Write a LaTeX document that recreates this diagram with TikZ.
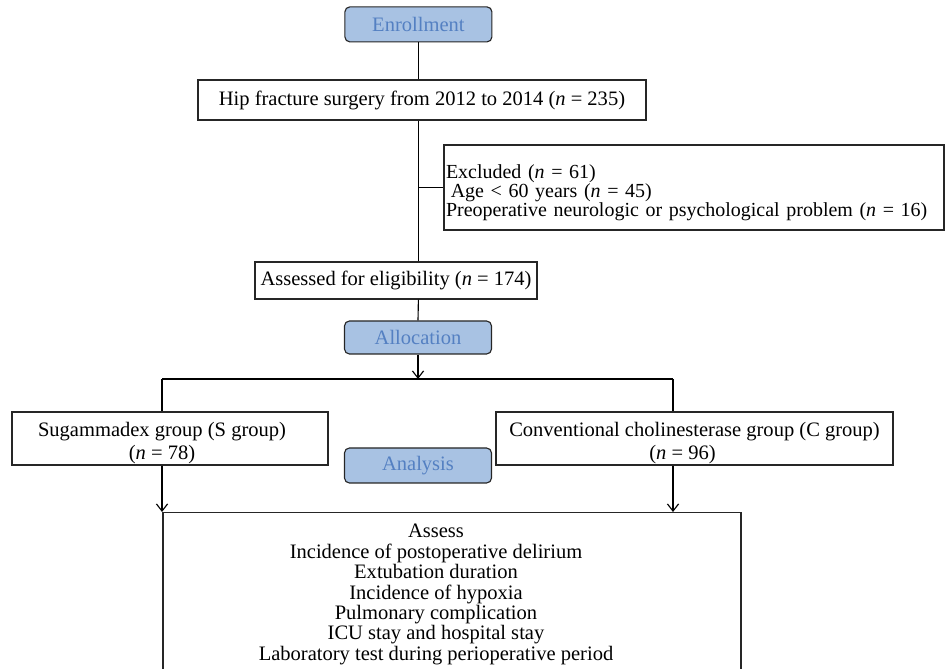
\documentclass[tikz,border=0pt]{standalone}
\usepackage{fontspec}
\setmainfont{Liberation Serif}
\usetikzlibrary{arrows.meta,positioning,calc}
\definecolor{phaseblue}{rgb}{0.66,0.76,0.89}
\definecolor{phasetext}{rgb}{0.33,0.50,0.76}
\tikzset{
  phase/.style={
    rounded corners=3.5pt,
    draw=black!85,
    fill=phaseblue,
    text=phasetext,
    inner sep=0pt,
    minimum width=3.675cm,
    font=\fontsize{14.6}{13.8}\selectfont
  },
  caja/.style={
    draw=black!85,
    fill=white,
    align=center,
    inner sep=0pt,
    font=\fontsize{14.6}{13.8}\selectfont
  },
  arrow/.style={
    -{Straight Barb[length=1.8mm,width=2.8mm]},
    line width=0.8pt
  }
}

\begin{document}
\begin{tikzpicture}[line width=0.8pt]
\useasboundingbox (0,0) rectangle (23.75,-16.725);
\node[phase,minimum height=0.875cm] (enroll) at (10.46,-0.61) {Enrollment};
\node[caja,minimum width=11.2cm,minimum height=1cm] (hip) at (10.55,-2.5)
  {Hip fracture surgery from 2012 to 2014 (\textit{n} = 235)};
\node[caja,align=left,text width=12.4cm,minimum width=12.5cm,minimum height=2.125cm,
  font=\fontsize{14.2}{13.6}\selectfont] (excl) at (17.35,-4.6875)
  {\rule{0pt}{0.6cm}Excluded (\textit{n} = 61)\\
   \hspace*{0.12cm}Age < 60 years (\textit{n} = 45)\\
   Preoperative neurologic or psychological problem (\textit{n} = 16)};
\node[caja,minimum width=7.05cm,minimum height=0.925cm] (assess) at (9.9,-7.0125)
  {Assessed for eligibility (\textit{n} = 174)};
\node[phase,minimum height=0.825cm] (alloc) at (10.45,-8.4375) {Allocation};
\node[caja,minimum width=7.9cm,minimum height=1.325cm] (sgroup) at (4.25,-10.9625)
  {\rule{0pt}{0.6cm}\hspace*{-0.4cm}Sugammadex group (S group)\\[2.5pt]\hspace*{-0.4cm}(\textit{n} = 78)};
\node[caja,minimum width=9.925cm,minimum height=1.325cm] (cgroup) at (17.3625,-10.9625)
  {\rule{0pt}{0.6cm}Conventional cholinesterase group (C group)\\[2.5pt]\hspace*{-0.6cm}(\textit{n} = 96)};
\node[phase,minimum height=0.875cm] (analysis) at (10.45,-11.6375) {Analysis};
\node[caja,anchor=north,minimum width=14.45cm,inner ysep=0.27cm,font=\fontsize{14.6}{14.5}\selectfont] (outcome) at (11.3,-12.8)
  {\hspace*{-0.8cm}\begin{tabular}{@{}c@{}}
   Assess\\
   Incidence of postoperative delirium\\
   Extubation duration\\
   Incidence of hypoxia\\
   Pulmonary complication\\
   ICU stay and hospital stay\\
   Laboratory test during perioperative period
   \end{tabular}};

\coordinate (fork) at (10.45,-9.475);
\coordinate (forkl) at (4.05,-9.475);
\coordinate (forkr) at (16.825,-9.475);

\draw (enroll.south) -- (enroll.south |- hip.north);
\draw (enroll.south |- hip.south) -- (enroll.south |- assess.north);
\draw (enroll.south |- excl.west) -- (excl.west);
\draw (enroll.south |- assess.south) -- (alloc.north);
\draw[arrow] (alloc.south) -- (fork);
\draw (forkl) -- (forkr);
\draw (forkl) -- (forkl |- sgroup.north);
\draw (forkr) -- (forkr |- cgroup.north);
\draw[arrow] (forkl |- sgroup.south) -- (forkl |- outcome.north);
\draw[arrow] (forkr |- cgroup.south) -- (forkr |- outcome.north);
\end{tikzpicture}
\end{document}
